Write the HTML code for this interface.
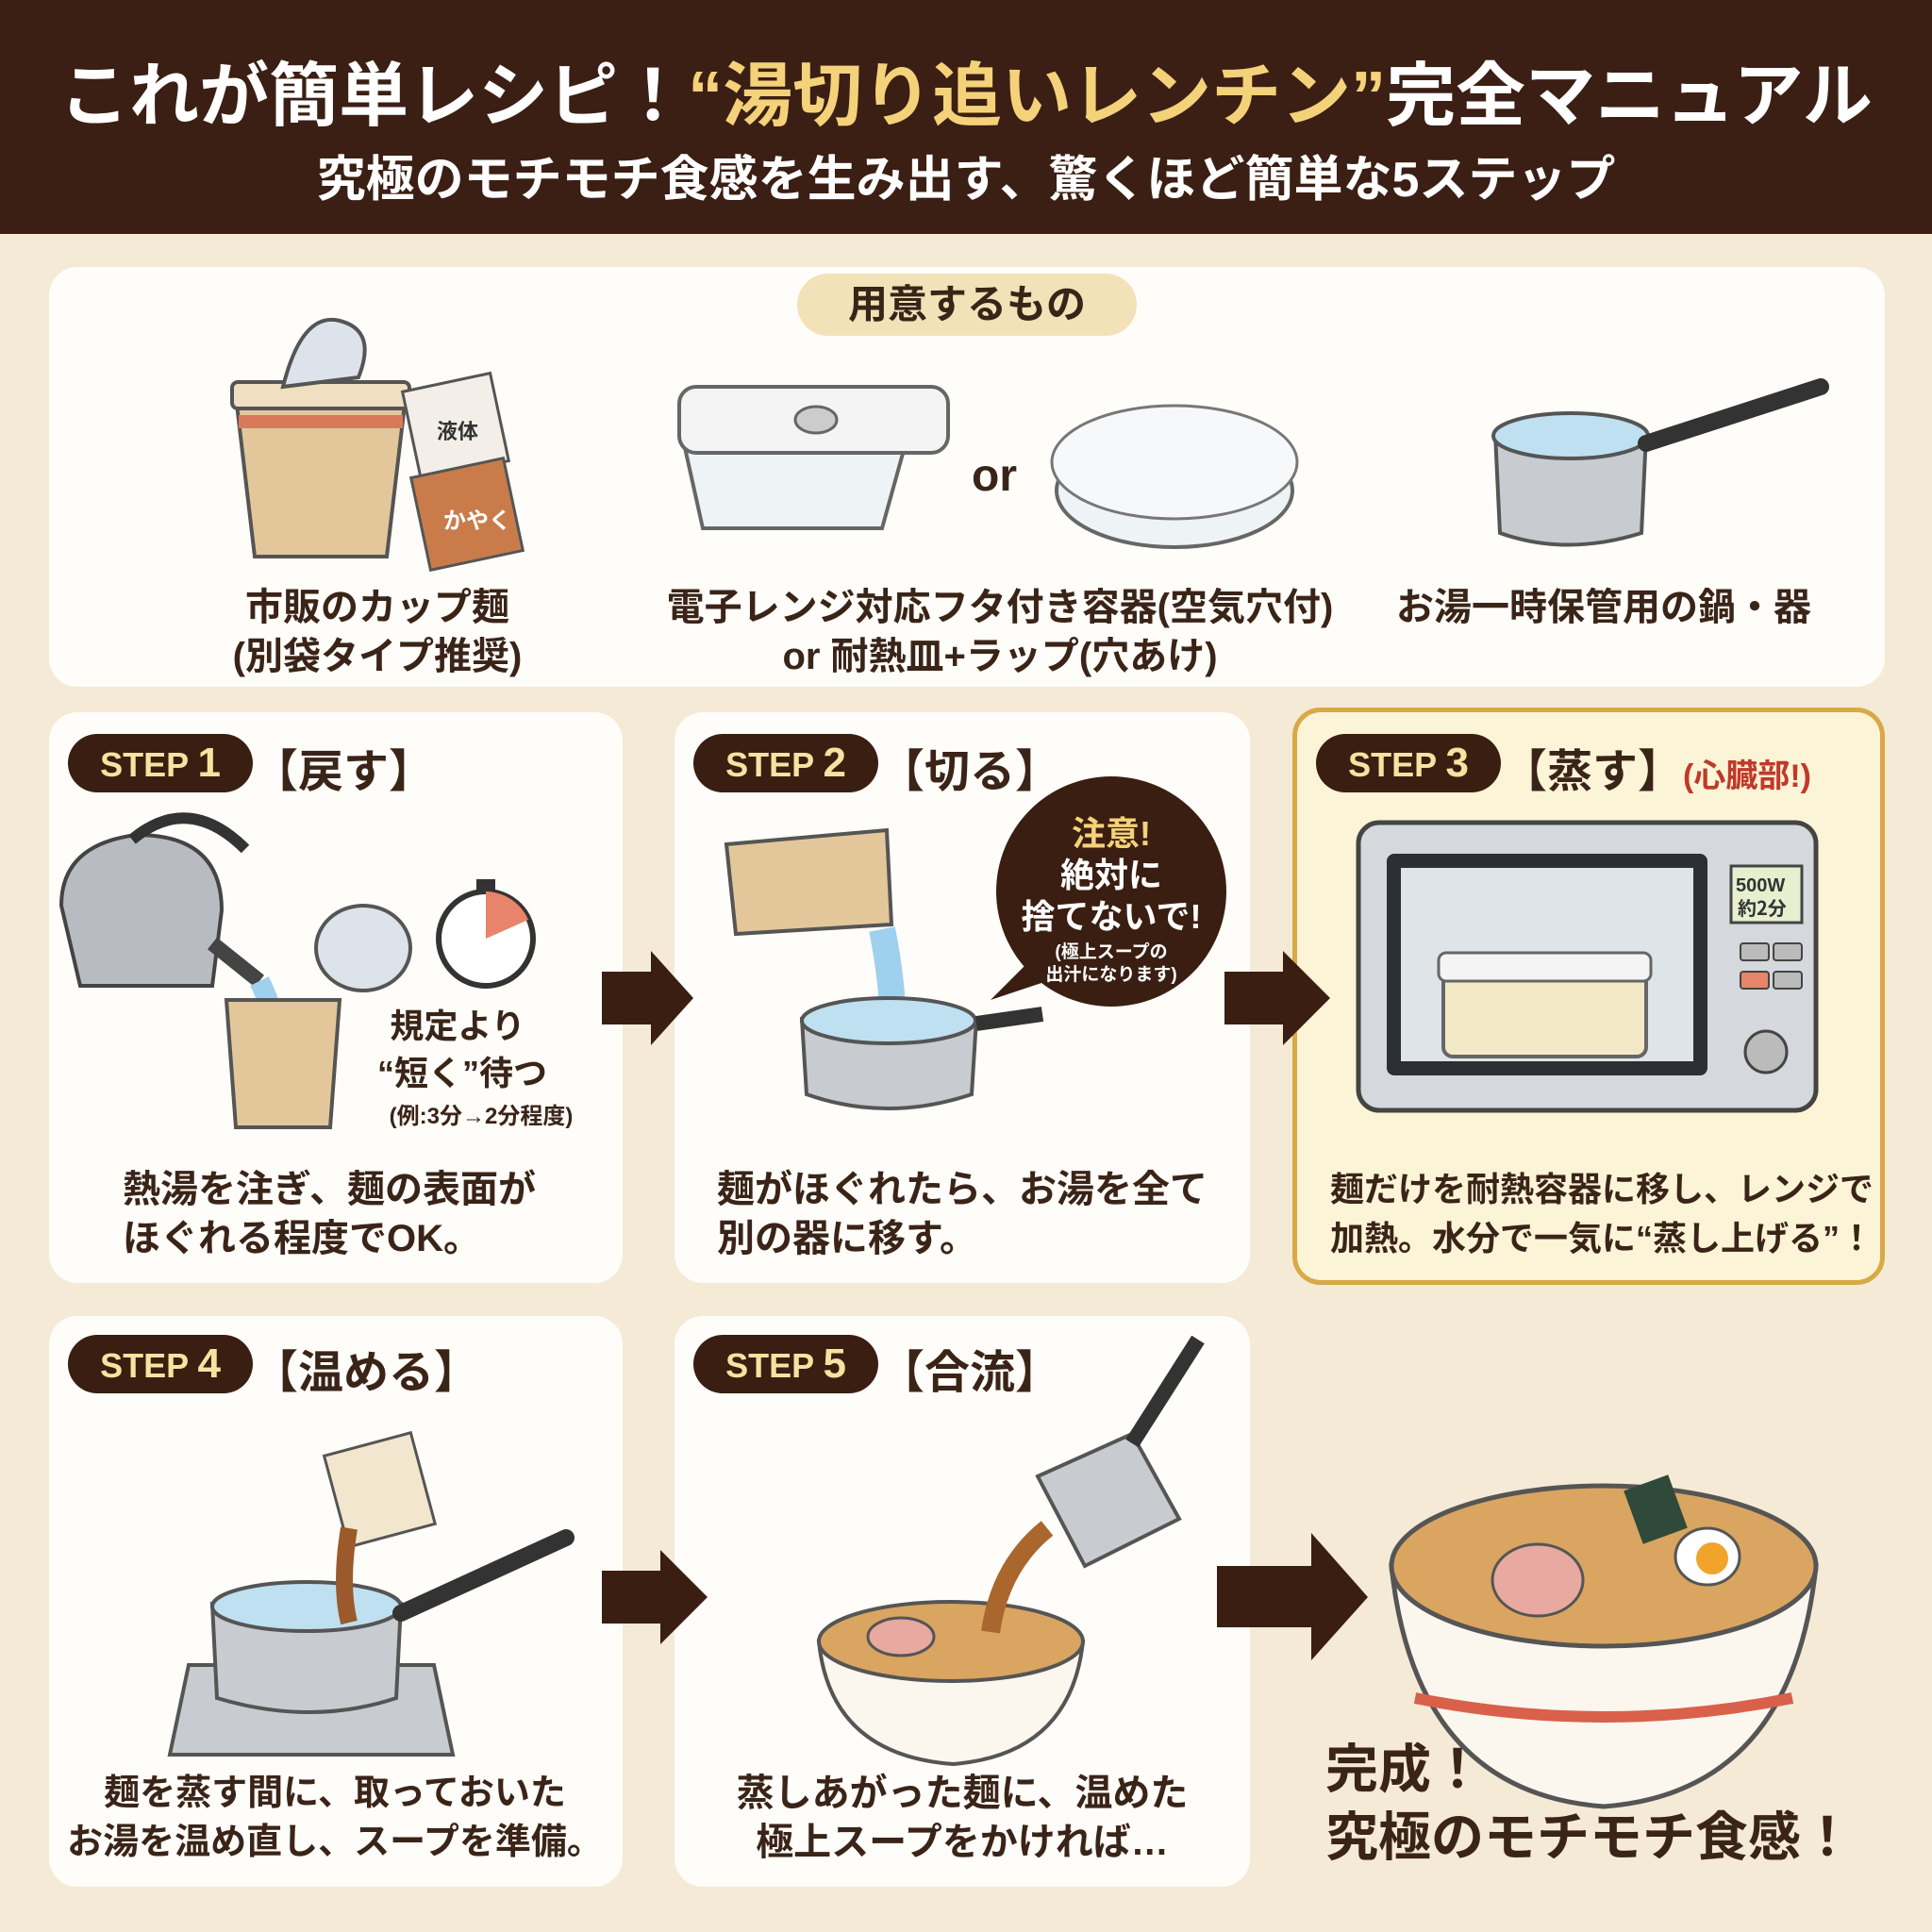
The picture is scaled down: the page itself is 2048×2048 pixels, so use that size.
<!DOCTYPE html>
<html><head><meta charset="utf-8">
<style>
*{margin:0;padding:0;box-sizing:border-box}
body{width:2048px;height:2048px;background:#f4ead6;position:relative;overflow:hidden;font-family:"Liberation Sans","Noto Sans CJK JP",sans-serif;color:#3a2418;font-weight:bold}
.abs{position:absolute}
.hdr{left:0;top:0;width:2048px;height:248px;background:#3b1f14}
.t1{left:0;width:2048px;top:42px;text-align:center;font-size:74px;color:#fff;white-space:nowrap}
.t1 span{color:#f4d27a}
.t2{left:0;width:2048px;top:148px;text-align:center;font-size:52px;color:#fff;white-space:nowrap}
.panel{background:#fffdf9;border-radius:30px}
.badge{background:#3a1e12;color:#f5e3a0;border-radius:32px;font-size:36px;height:62px;line-height:62px;padding:0 22px;width:196px;text-align:center}
.badge b{font-size:44px}
.st{font-size:48px;color:#3a2418;white-space:nowrap}
.txt{font-size:40px;line-height:52px;white-space:nowrap}
.c{text-align:center}
</style></head><body>
<div class="abs hdr"></div>
<div class="abs t1">これが簡単レシピ！<span>“湯切り追いレンチン”</span>完全マニュアル</div>
<div class="abs t2">究極のモチモチ食感を生み出す、驚くほど簡単な5ステップ</div>

<div class="abs panel" style="left:52px;top:283px;width:1946px;height:445px"></div>
<div class="abs" style="left:845px;top:290px;width:360px;height:66px;border-radius:33px;background:#f3e1b8;font-size:42px;line-height:66px;text-align:center">用意するもの</div>
<svg class="abs" style="left:0;top:0" width="2048" height="2048">
 <path d="M250 420 L430 420 L410 590 L270 590 Z" fill="#e3c79a" stroke="#555" stroke-width="4"/>
 <rect x="246" y="405" width="188" height="28" rx="6" fill="#f0dfc0" stroke="#555" stroke-width="4"/>
 <rect x="253" y="440" width="174" height="14" fill="#d87a5a"/>
 <path d="M300 410 Q320 330 360 340 Q400 350 380 400 Z" fill="#dde3ea" stroke="#555" stroke-width="4"/>
 <rect x="435" y="405" width="95" height="95" fill="#f3efe8" stroke="#555" stroke-width="3" transform="rotate(-12 480 450)"/>
 <rect x="445" y="495" width="100" height="100" fill="#c97c4a" stroke="#555" stroke-width="3" transform="rotate(-12 495 545)"/>
 <text x="463" y="465" font-size="22" fill="#333" font-family="Noto Sans CJK JP">液体</text>
 <text x="470" y="560" font-size="24" fill="#fff" font-family="Noto Sans CJK JP">かやく</text>
 <path d="M725 470 L745 560 L935 560 L960 470 Z" fill="#eef3f6" stroke="#666" stroke-width="4"/>
 <rect x="720" y="410" width="285" height="70" rx="18" fill="#f4f4f4" stroke="#666" stroke-width="4"/>
 <ellipse cx="865" cy="445" rx="22" ry="14" fill="#ccc" stroke="#666" stroke-width="3"/>
 <ellipse cx="1245" cy="520" rx="125" ry="60" fill="#eef3f6" stroke="#666" stroke-width="4"/>
 <ellipse cx="1245" cy="490" rx="130" ry="60" fill="#f6f8fa" stroke="#777" stroke-width="3"/>
 <text x="1030" y="520" font-size="48" fill="#3a2418" font-family="Liberation Sans">or</text>
 <path d="M1585 460 L1590 565 Q1660 590 1740 565 L1745 460 Z" fill="#c8ccd0" stroke="#555" stroke-width="4"/>
 <ellipse cx="1665" cy="462" rx="82" ry="24" fill="#bfe0f0" stroke="#555" stroke-width="4"/>
 <path d="M1745 470 L1930 410" stroke="#333" stroke-width="18" stroke-linecap="round"/>
</svg>
<div class="abs txt c" style="left:200px;top:618px;width:400px">市販のカップ麺<br>(別袋タイプ推奨)</div>
<div class="abs txt c" style="left:660px;top:618px;width:800px">電子レンジ対応フタ付き容器(空気穴付)<br>or 耐熱皿+ラップ(穴あけ)</div>
<div class="abs txt c" style="left:1440px;top:618px;width:520px">お湯一時保管用の鍋・器</div>

<div class="abs panel" style="left:52px;top:755px;width:608px;height:605px"></div>
<div class="abs panel" style="left:715px;top:755px;width:610px;height:605px"></div>
<div class="abs panel" style="left:1370px;top:750px;width:628px;height:612px;background:#fcf4d6;border:5px solid #d9a945"></div>
<div class="abs panel" style="left:52px;top:1395px;width:608px;height:605px"></div>
<div class="abs panel" style="left:715px;top:1395px;width:610px;height:605px"></div>

<div class="abs badge" style="left:72px;top:778px">STEP <b>1</b></div><div class="abs st" style="left:268px;top:778px">【戻す】</div>
<div class="abs badge" style="left:735px;top:778px">STEP <b>2</b></div><div class="abs st" style="left:932px;top:778px">【切る】</div>
<div class="abs badge" style="left:1395px;top:778px">STEP <b>3</b></div><div class="abs st" style="left:1592px;top:778px">【蒸す】<span style="font-size:34px;color:#c0392b">(心臓部!)</span></div>
<div class="abs badge" style="left:72px;top:1415px">STEP <b>4</b></div><div class="abs st" style="left:268px;top:1415px">【温める】</div>
<div class="abs badge" style="left:735px;top:1415px">STEP <b>5</b></div><div class="abs st" style="left:932px;top:1415px">【合流】</div>

<svg class="abs" style="left:0;top:0" width="2048" height="2048">
 <path d="M65 960 Q65 895 145 885 Q235 885 235 965 L225 1045 L85 1045 Z" fill="#b8bcc2" stroke="#444" stroke-width="4"/>
 <path d="M140 890 Q200 840 260 900" fill="none" stroke="#333" stroke-width="12"/>
 <path d="M225 1000 L275 1040" stroke="#444" stroke-width="16"/>
 <path d="M275 1040 Q295 1080 295 1120" stroke="#9fd0ee" stroke-width="22" fill="none"/>
 <path d="M240 1060 L360 1060 L350 1195 L250 1195 Z" fill="#e3c79a" stroke="#555" stroke-width="4"/>
 <ellipse cx="385" cy="1005" rx="50" ry="45" fill="#dde3ea" stroke="#555" stroke-width="4"/>
 <circle cx="515" cy="995" r="50" fill="#fff" stroke="#333" stroke-width="6"/>
 <path d="M515 995 L515 945 A50 50 0 0 1 560 975 Z" fill="#e8846a"/>
 <rect x="505" y="932" width="20" height="12" fill="#333"/>
 <path d="M770 895 L940 880 L945 980 L780 990 Z" fill="#e3c79a" stroke="#555" stroke-width="4"/>
 <path d="M935 985 Q950 1060 945 1110" stroke="#9fd0ee" stroke-width="28" fill="none"/>
 <path d="M850 1080 L855 1160 Q940 1190 1030 1160 L1035 1080 Z" fill="#c8ccd0" stroke="#555" stroke-width="4"/>
 <ellipse cx="942" cy="1082" rx="92" ry="24" fill="#bfe0f0" stroke="#555" stroke-width="4"/>
 <path d="M1035 1085 L1105 1075" stroke="#333" stroke-width="16"/>
 <circle cx="1178" cy="945" r="122" fill="#3a1e12"/>
 <path d="M1090 1020 L1050 1060 L1110 1040 Z" fill="#3a1e12"/>
 <rect x="1440" y="872" width="485" height="305" rx="22" fill="#d5d8dc" stroke="#444" stroke-width="5"/>
 <rect x="1470" y="905" width="340" height="235" rx="8" fill="#2c2f33"/>
 <rect x="1485" y="920" width="310" height="205" fill="#dfe4e8"/>
 <rect x="1530" y="1025" width="215" height="95" rx="10" fill="#f3e8c6" stroke="#666" stroke-width="4"/>
 <rect x="1525" y="1010" width="225" height="30" rx="8" fill="#f4f4f4" stroke="#666" stroke-width="3"/>
 <rect x="1835" y="918" width="75" height="60" fill="#e8efcf" stroke="#444" stroke-width="3"/>
 <text x="1840" y="945" font-size="20" fill="#333">500W</text><text x="1842" y="970" font-size="20" fill="#333" font-family="Noto Sans CJK JP">約2分</text>
 <rect x="1845" y="1000" width="30" height="18" rx="3" fill="#bbb" stroke="#444" stroke-width="2"/>
 <rect x="1880" y="1000" width="30" height="18" rx="3" fill="#bbb" stroke="#444" stroke-width="2"/>
 <rect x="1845" y="1030" width="30" height="18" rx="3" fill="#e8846a" stroke="#444" stroke-width="2"/>
 <rect x="1880" y="1030" width="30" height="18" rx="3" fill="#bbb" stroke="#444" stroke-width="2"/>
 <circle cx="1872" cy="1115" r="22" fill="#bbb" stroke="#444" stroke-width="3"/>
 <path d="M180 1860 L200 1765 L460 1765 L480 1860 Z" fill="#c8ccd0" stroke="#555" stroke-width="4"/>
 <path d="M225 1700 L230 1800 Q330 1830 420 1800 L425 1700 Z" fill="#c8ccd0" stroke="#555" stroke-width="4"/>
 <ellipse cx="325" cy="1703" rx="100" ry="26" fill="#bfe0f0" stroke="#555" stroke-width="4"/>
 <path d="M425 1710 L600 1630" stroke="#333" stroke-width="18" stroke-linecap="round"/>
 <rect x="355" y="1530" width="95" height="100" fill="#f2e6cf" stroke="#555" stroke-width="3" transform="rotate(-15 400 1580)"/>
 <path d="M370 1620 Q360 1680 370 1720" stroke="#9a5a2c" stroke-width="18" fill="none"/>
 <path d="M868 1740 Q880 1860 1010 1870 Q1135 1860 1148 1740 Z" fill="#fbf6ee" stroke="#555" stroke-width="4"/>
 <ellipse cx="1008" cy="1740" rx="140" ry="42" fill="#d9a560" stroke="#555" stroke-width="4"/>
 <ellipse cx="955" cy="1735" rx="35" ry="20" fill="#e7a9a0" stroke="#555" stroke-width="3"/>
 <path d="M1100 1565 L1150 1660 L1250 1610 L1200 1520 Z" fill="#c8ccd0" stroke="#555" stroke-width="4"/>
 <path d="M1200 1530 L1270 1420" stroke="#333" stroke-width="16"/>
 <path d="M1110 1620 Q1060 1660 1050 1730" stroke="#a9672e" stroke-width="20" fill="none"/>
 <path d="M1475 1660 Q1500 1900 1700 1915 Q1900 1900 1925 1660 Z" fill="#fbf6ee" stroke="#555" stroke-width="5"/>
 <path d="M1500 1800 Q1700 1840 1900 1800" stroke="#d9604a" stroke-width="12" fill="none"/>
 <ellipse cx="1700" cy="1660" rx="225" ry="85" fill="#d9a560" stroke="#555" stroke-width="5"/>
 <ellipse cx="1630" cy="1675" rx="48" ry="38" fill="#e7a9a0" stroke="#555" stroke-width="3"/>
 <ellipse cx="1810" cy="1650" rx="34" ry="30" fill="#fff" stroke="#555" stroke-width="3"/>
 <circle cx="1815" cy="1652" r="17" fill="#f0a42c"/>
 <rect x="1730" y="1570" width="50" height="60" fill="#2f4a3a" transform="rotate(-20 1755 1600)"/>
 <g fill="#3a1e12">
 <path d="M638 1030 L690 1030 L690 1008 L735 1058 L690 1108 L690 1086 L638 1086 Z"/>
 <path d="M1298 1030 L1360 1030 L1360 1008 L1410 1058 L1360 1108 L1360 1086 L1298 1086 Z"/>
 <path d="M638 1665 L700 1665 L700 1643 L750 1693 L700 1743 L700 1721 L638 1721 Z"/>
 <path d="M1290 1660 L1390 1660 L1390 1625 L1450 1693 L1390 1760 L1390 1725 L1290 1725 Z"/>
 </g>
</svg>

<div class="abs c" style="left:400px;top:1063px;width:170px;font-size:36px;line-height:50px;white-space:nowrap">規定より<br>“短く”待つ</div>
<div class="abs c" style="left:380px;top:1163px;width:260px;font-size:24px;white-space:nowrap">(例:3分→2分程度)</div>
<div class="abs txt" style="left:130px;top:1235px">熱湯を注ぎ、麺の表面が<br>ほぐれる程度でOK。</div>

<div class="abs c" style="left:1058px;top:862px;width:240px;color:#fff;font-size:36px;line-height:44px"><span style="color:#f4d27a">注意!</span><br>絶対に<br>捨てないで!</div>
<div class="abs c" style="left:1058px;top:998px;width:240px;color:#fff;font-size:19px;line-height:24px">(極上スープの<br>出汁になります)</div>
<div class="abs txt" style="left:760px;top:1235px">麺がほぐれたら、お湯を全て<br>別の器に移す。</div>

<div class="abs txt" style="left:1410px;top:1235px;font-size:36px">麺だけを耐熱容器に移し、レンジで<br>加熱。水分で一気に“蒸し上げる”！</div>

<div class="abs txt c" style="left:60px;top:1875px;width:590px;font-size:38px">麺を蒸す間に、取っておいた<br>お湯を温め直し、スープを準備。</div>
<div class="abs txt c" style="left:725px;top:1875px;width:590px">蒸しあがった麺に、温めた<br>極上スープをかければ…</div>

<div class="abs" style="left:1405px;top:1840px;font-size:56px;line-height:72px;white-space:nowrap">完成！<br>究極のモチモチ食感！</div>
</body></html>
